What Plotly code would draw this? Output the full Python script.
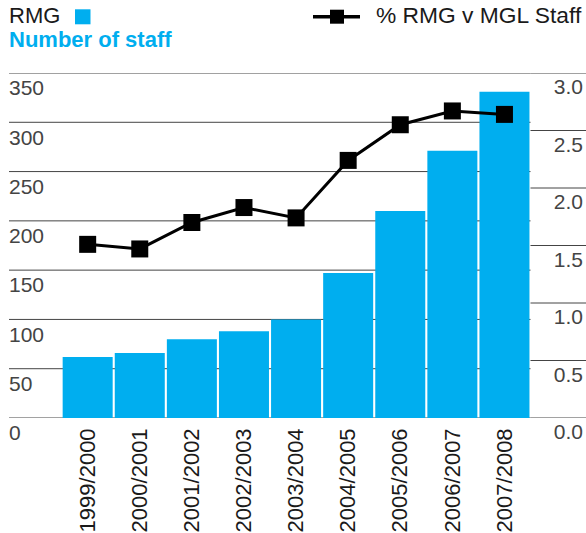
import plotly.graph_objects as go

YEARS = [
    "1999/2000", "2000/2001", "2001/2002", "2002/2003", "2003/2004",
    "2004/2005", "2005/2006", "2006/2007", "2007/2008",
]
STAFF = [62, 66, 80, 88, 100, 147, 210, 271, 331]
PCT_OF_MGL = [1.51, 1.47, 1.70, 1.83, 1.74, 2.24, 2.55, 2.67, 2.64]
STAFF_TICKS = [0, 50, 100, 150, 200, 250, 300, 350]
PCT_TICKS = [0.0, 0.5, 1.0, 1.5, 2.0, 2.5, 3.0]

BLUE = "#00aeef"
INK = "#1a1a1a"
FONT = "Liberation Sans, Arial, sans-serif"

W, H = 586, 533
ML, MR, MT, MB = 9, 0, 73, 115
X_RANGE = [-1.51, 9.565]


def px_x(x):
    # page pixel -> paper fraction
    return (x - ML) / (W - ML - MR)


def px_y(y):
    return (H - MB - y) / (H - MT - MB)


fig = go.Figure()
fig.add_trace(
    go.Bar(
        x=YEARS,
        y=STAFF,
        marker={"color": BLUE, "line": {"width": 0}},
        name="RMG",
    )
)
fig.add_trace(
    go.Scatter(
        x=YEARS,
        y=PCT_OF_MGL,
        yaxis="y2",
        mode="lines+markers",
        line={"color": "black", "width": 3},
        marker={"symbol": "square", "size": 17, "color": "black"},
        name="% RMG v MGL Staff",
    )
)

split = len(YEARS) - 0.5
for t in STAFF_TICKS:
    fig.add_shape(type="line", xref="x", yref="y", x0=X_RANGE[0], x1=split,
                  y0=t, y1=t, line={"color": "#444", "width": 1}, layer="below")
for t in PCT_TICKS:
    fig.add_shape(type="line", xref="x", yref="y2", x0=split, x1=X_RANGE[1],
                  y0=t, y1=t, line={"color": "#444", "width": 1}, layer="below")

# header key
fig.add_annotation(xref="paper", yref="paper", x=px_x(7), y=px_y(15.5),
                   xanchor="left", yanchor="middle", text="RMG", showarrow=False,
                   font={"size": 22, "color": INK})
fig.add_shape(type="rect", xref="paper", yref="paper", x0=px_x(75), x1=px_x(90.5),
              y0=px_y(24.3), y1=px_y(9.3), fillcolor=BLUE, line={"width": 0})
fig.add_annotation(xref="paper", yref="paper", x=px_x(7), y=px_y(39),
                   xanchor="left", yanchor="middle", text="<b>Number of staff</b>",
                   showarrow=False, font={"size": 22, "color": BLUE})
fig.add_shape(type="line", xref="paper", yref="paper", x0=px_x(313), x1=px_x(360),
              y0=px_y(16.7), y1=px_y(16.7), line={"color": "black", "width": 3.5})
fig.add_shape(type="rect", xref="paper", yref="paper", x0=px_x(330), x1=px_x(344),
              y0=px_y(23.7), y1=px_y(9.7), fillcolor="black", line={"width": 0})
fig.add_annotation(xref="paper", yref="paper", x=px_x(584), y=px_y(15.5),
                   xanchor="right", yanchor="middle", text="% RMG v MGL Staff",
                   showarrow=False, font={"size": 22.8, "color": INK})

fig.update_layout(
    width=W,
    height=H,
    margin={"l": ML, "r": MR, "t": MT, "b": MB},
    paper_bgcolor="white",
    plot_bgcolor="white",
    showlegend=False,
    bargap=0.04,
    font={"family": FONT, "color": INK, "size": 21},
    xaxis={
        "range": X_RANGE,
        "tickangle": -90,
        "showgrid": False,
        "showline": False,
        "zeroline": False,
        "ticks": "",
        "tickfont": {"size": 22},
        "ticklabelstandoff": 5,
    },
    yaxis={
        "range": [0, 350],
        "tickvals": STAFF_TICKS,
        "showgrid": False,
        "zeroline": False,
        "showline": False,
        "ticks": "",
        "ticklabelposition": "inside",
        "ticklabeloverflow": "allow",
        "ticklabelshift": 15,
        "ticklabelstandoff": -3,
    },
    yaxis2={
        "range": [0, 3],
        "tickvals": PCT_TICKS,
        "tickformat": ".1f",
        "overlaying": "y",
        "side": "right",
        "showgrid": False,
        "zeroline": False,
        "showline": False,
        "ticks": "",
        "ticklabelposition": "inside",
        "ticklabeloverflow": "allow",
        "ticklabelshift": 14,
    },
)

# drop the default body margin so the 586x533 figure fills the window exactly
fig.write_html(
    "out.html",
    config={"displayModeBar": False},
    post_script="document.body.style.margin = '0';",
)
